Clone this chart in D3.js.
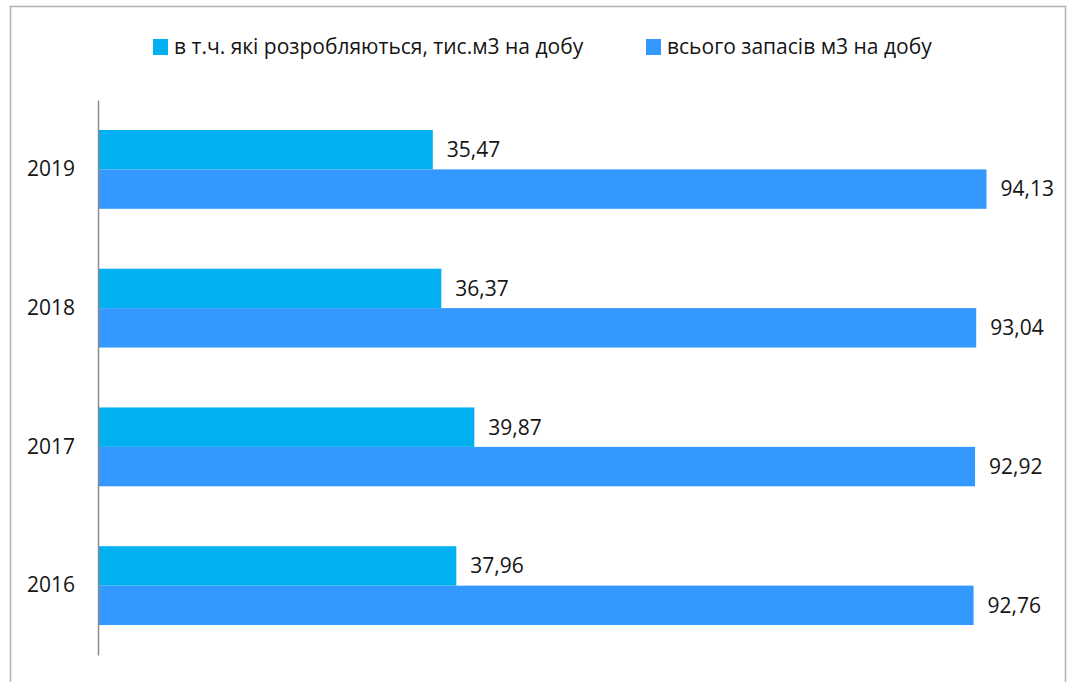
<!DOCTYPE html>
<html>
<head>
<meta charset="utf-8">
<script src="https://cdn.jsdelivr.net/npm/d3@7"></script>
<style>
  html, body { margin: 0; padding: 0; background: #fff; }
  svg { display: block; font-family: "Open Sans", sans-serif; }
</style>
</head>
<body>
<div id="chart"></div>
<script>
const years = ['2019', '2018', '2017', '2016'];
const seriesNames = ['в т.ч. які розробляються, тис.м3 на добу', 'всього запасів м3 на добу'];
const developed = [35.47, 36.37, 39.87, 37.96];
const totalReserves = [94.13, 93.04, 92.92, 92.76];
const colors = ['#00b0f0', '#3399ff'];

const width = 1069, height = 682;
const margin = { top: 100, bottom: 27, left: 98, right: 83 };

const rows = years.map((y, i) => ({ year: y, values: [developed[i], totalReserves[i]] }));

const svg = d3.select('#chart')
    .append('svg')
    .attr('width', width)
    .attr('height', height);

// frame
svg.append('path')
    .attr('d', `M10.5,${height + 2}V6.5H1065.5V${height + 2}`)
    .attr('fill', 'none')
    .attr('stroke', '#b0b0b0')
    .attr('stroke-width', 1.5);

const x = d3.scaleLinear()
    .domain([0, 94.13])
    .range([margin.left, 986.5]);

const y = d3.scaleBand()
    .domain(years)
    .range([margin.top, height - margin.bottom])
    .padding(0);

const ySub = d3.scaleBand()
    .domain(d3.range(seriesNames.length))
    .range([0, y.bandwidth()])
    .paddingInner(0)
    .paddingOuter(0.76);

const groups = svg.append('g')
    .selectAll('g')
    .data(rows)
    .join('g')
    .attr('transform', d => `translate(0,${y(d.year)})`);

groups.selectAll('rect')
    .data(d => d.values)
    .join('rect')
    .attr('x', x(0))
    .attr('y', (d, i) => ySub(i))
    .attr('width', d => x(d) - x(0))
    .attr('height', ySub.bandwidth())
    .attr('fill', (d, i) => colors[i]);

groups.selectAll('text')
    .data(d => d.values)
    .join('text')
    .attr('x', d => x(d) + 14)
    .attr('y', (d, i) => ySub(i) + ySub.bandwidth() / 2)
    .attr('dy', '0.35em')
    .attr('font-size', '21px')
    .attr('fill', '#151515')
    .text(d => d.toFixed(2).replace('.', ','));

// category axis
const yAxis = svg.append('g')
    .attr('transform', `translate(${margin.left},0)`)
    .call(d3.axisLeft(y).tickSize(0).tickPadding(23));
yAxis.select('.domain').attr('stroke', '#8c8c8c').attr('stroke-width', 1.5);
yAxis.selectAll('text')
    .attr('font-size', '21px')
    .attr('font-family', '"Open Sans", sans-serif')
    .attr('fill', '#151515');

// legend
const legendX = [153, 646];
const legend = svg.append('g')
    .selectAll('g')
    .data(seriesNames)
    .join('g')
    .attr('transform', (d, i) => `translate(${legendX[i]},39)`);

legend.append('rect')
    .attr('width', 15)
    .attr('height', 16)
    .attr('fill', (d, i) => colors[i]);

legend.append('text')
    .attr('x', 21)
    .attr('y', 8)
    .attr('dy', '0.35em')
    .attr('font-size', '21px')
    .attr('fill', '#151515')
    .text(d => d);
</script>
</body>
</html>
